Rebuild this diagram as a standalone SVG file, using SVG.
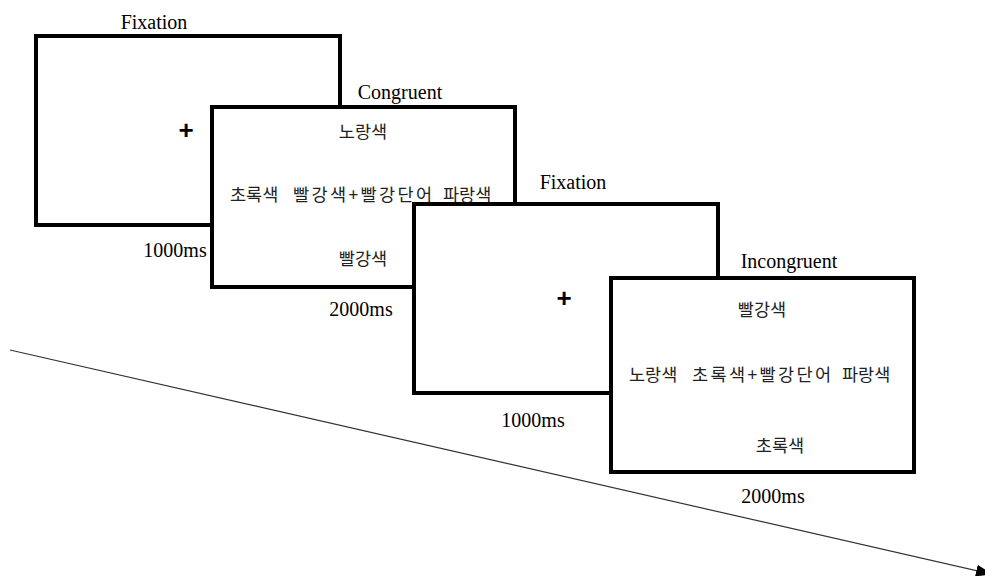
<svg xmlns="http://www.w3.org/2000/svg" width="985" height="576" viewBox="0 0 985 576">
<style>
.box{fill:#fff;stroke:#000;stroke-width:4}
.lbl{font-family:"Liberation Serif","Times New Roman",serif;font-size:20px;fill:#000;text-anchor:middle}
.kr{font-family:"Noto Sans CJK KR","Noto Sans",sans-serif;font-size:17.5px;fill:#222;text-anchor:middle}
.krl{font-family:"Noto Sans CJK KR","Noto Sans",sans-serif;font-size:17.5px;fill:#222;text-anchor:start}
.wide{letter-spacing:2.4px}
.fix{font-family:"Liberation Sans",Arial,sans-serif;font-size:26px;font-weight:bold;fill:#000;text-anchor:middle}
.conn{stroke:#333;stroke-width:1.2;fill:none}
</style>
<defs>
<marker id="ah" markerWidth="16" markerHeight="12" refX="15" refY="6" orient="auto" markerUnits="userSpaceOnUse">
<path d="M0,0 L16,6 L0,12 Z" fill="#000"/>
</marker>
</defs>
<g id="connectors">
<line class="conn" x1="10" y1="350" x2="991" y2="574" marker-end="url(#ah)"/>
</g>
<g id="fixation1">
<rect class="box" x="36" y="36" width="304" height="189"/>
<text class="fix" x="186" y="139">+</text>
<text class="lbl" x="154" y="29">Fixation</text>
<text class="lbl" x="175" y="257">1000ms</text>
</g>
<g id="congruent">
<rect class="box" x="212" y="107" width="303" height="180"/>
<text class="lbl" x="400" y="99">Congruent</text>
<text class="kr" x="363" y="138">노랑색</text>
<text class="krl" y="201"><tspan x="230">초록색</tspan> <tspan x="293" class="wide">빨강색+빨강단어</tspan> <tspan x="443">파랑색</tspan></text>
<text class="kr" x="363" y="265">빨강색</text>
<text class="lbl" x="361" y="316">2000ms</text>
</g>
<g id="fixation2">
<rect class="box" x="414" y="204" width="304" height="189"/>
<text class="fix" x="564" y="307">+</text>
<text class="lbl" x="573" y="189">Fixation</text>
<text class="lbl" x="533" y="427">1000ms</text>
</g>
<g id="incongruent">
<rect class="box" x="611" y="278" width="303" height="194"/>
<text class="lbl" x="789" y="268">Incongruent</text>
<text class="kr" x="762" y="316">빨강색</text>
<text class="krl" y="381"><tspan x="629">노랑색</tspan> <tspan x="692" class="wide">초록색+빨강단어</tspan> <tspan x="842">파랑색</tspan></text>
<text class="kr" x="780" y="452">초록색</text>
<text class="lbl" x="773" y="503">2000ms</text>
</g>
</svg>
